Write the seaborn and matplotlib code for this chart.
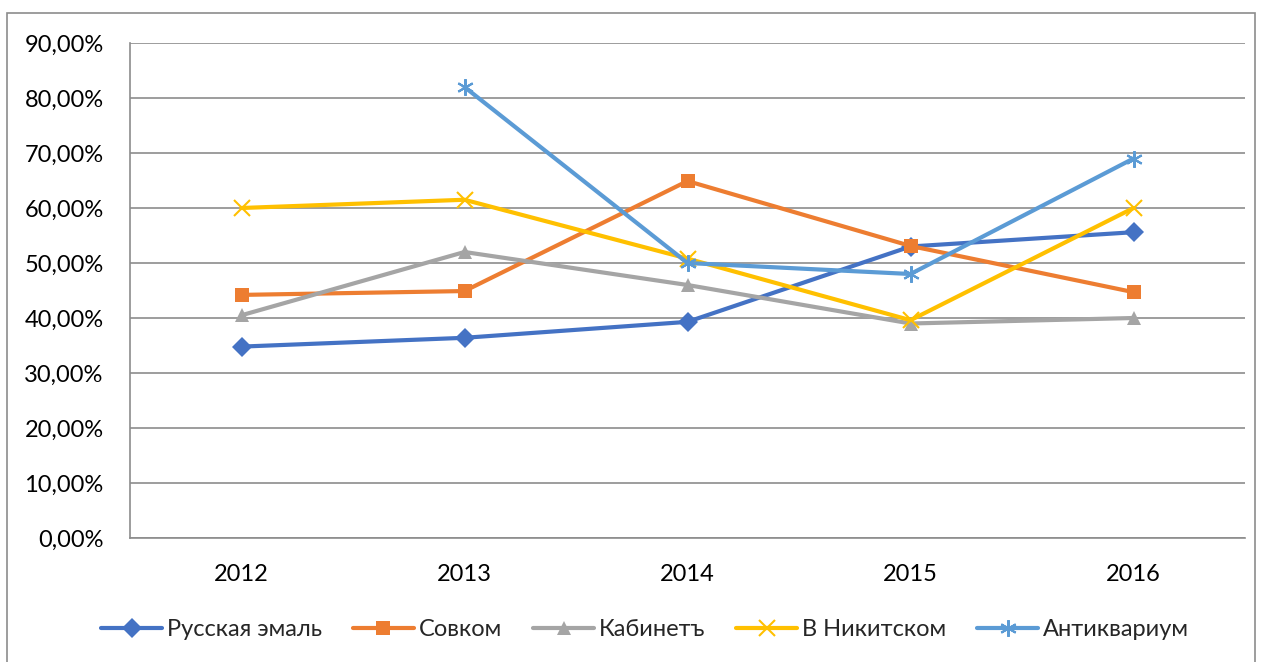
import numpy as np
import pandas as pd
import matplotlib
matplotlib.use("Agg")
import matplotlib.pyplot as plt
import seaborn as sns
from matplotlib.patches import Rectangle
from matplotlib.ticker import FuncFormatter

years = ["2012", "2013", "2014", "2015", "2016"]
russkaya_emal = [34.8, 36.4, 39.3, 53.0, 55.6]
sovkom = [44.2, 44.9, 64.9, 53.1, 44.7]
kabinet = [40.5, 52.0, 46.0, 39.0, 40.0]
v_nikitskom = [60.0, 61.5, 50.8, 39.6, 60.0]
antikvarium = [np.nan, 82.0, 50.0, 48.0, 69.0]

names = ["Русская эмаль", "Совком", "Кабинетъ", "В Никитском", "Антиквариум"]
series = [russkaya_emal, sovkom, kabinet, v_nikitskom, antikvarium]
colors = ["#4472C4", "#ED7D31", "#A5A5A5", "#FFC000", "#5B9BD5"]
markers = ["D", "s", "^", "x", (6, 2, 0)]

df = pd.DataFrame({"Год": years * len(names),
                   "Доля": sum(series, []),
                   "Магазин": np.repeat(names, len(years))})

sns.set_style("white")
plt.rcParams["font.family"] = ["Lato", "DejaVu Sans"]

fig = plt.figure(figsize=(12.63, 6.62), dpi=100)
ax = fig.add_axes([130 / 1263, 1 - 538 / 662, (1245 - 130) / 1263, (538 - 43) / 662])

for name, col, mk in zip(names, colors, markers):
    sub = df[df["Магазин"] == name].dropna()
    sns.lineplot(data=sub, x="Год", y="Доля", ax=ax, color=col, lw=3,
                 marker=mk, markersize=10 if mk in ("D", "s", "^") else 12,
                 markeredgewidth=1.5 if mk in ("x", (6, 2, 0)) else 0,
                 markeredgecolor=col, label=name, sort=False)

ax.set_xlim(-0.5, 4.5)
ax.set_ylim(0, 90)
ax.set_yticks(np.arange(0, 91, 10))
ax.yaxis.set_major_formatter(FuncFormatter(lambda v, p: f"{v:.2f}%".replace(".", ",")))
ax.grid(axis="y", color="#8C8C8C", lw=1.2)
ax.set_axisbelow(True)
ax.set_xlabel("")
ax.set_ylabel("")
for s in ["top", "right"]:
    ax.spines[s].set_visible(False)
for s in ["left", "bottom"]:
    ax.spines[s].set_color("#8C8C8C")
    ax.spines[s].set_linewidth(1.2)
ax.tick_params(axis="both", length=0, labelsize=17, colors="black")
ax.tick_params(axis="y", pad=19)
ax.tick_params(axis="x", pad=19)

handles, labels = ax.get_legend_handles_labels()
ax.legend(handles, labels, loc="center", bbox_to_anchor=((645 - 130) / 1115, (538 - 630) / 495),
          ncol=5, frameon=False, fontsize=17, handlelength=2.6, columnspacing=1.3,
          handletextpad=0.2)

fig.patches.append(Rectangle((7 / 1263, -0.05), (1255 - 7) / 1263, 1.05 - 13 / 662,
                             transform=fig.transFigure, fill=False,
                             edgecolor="#8C8C8C", lw=1.2))

fig.savefig("out.png", dpi=100)
